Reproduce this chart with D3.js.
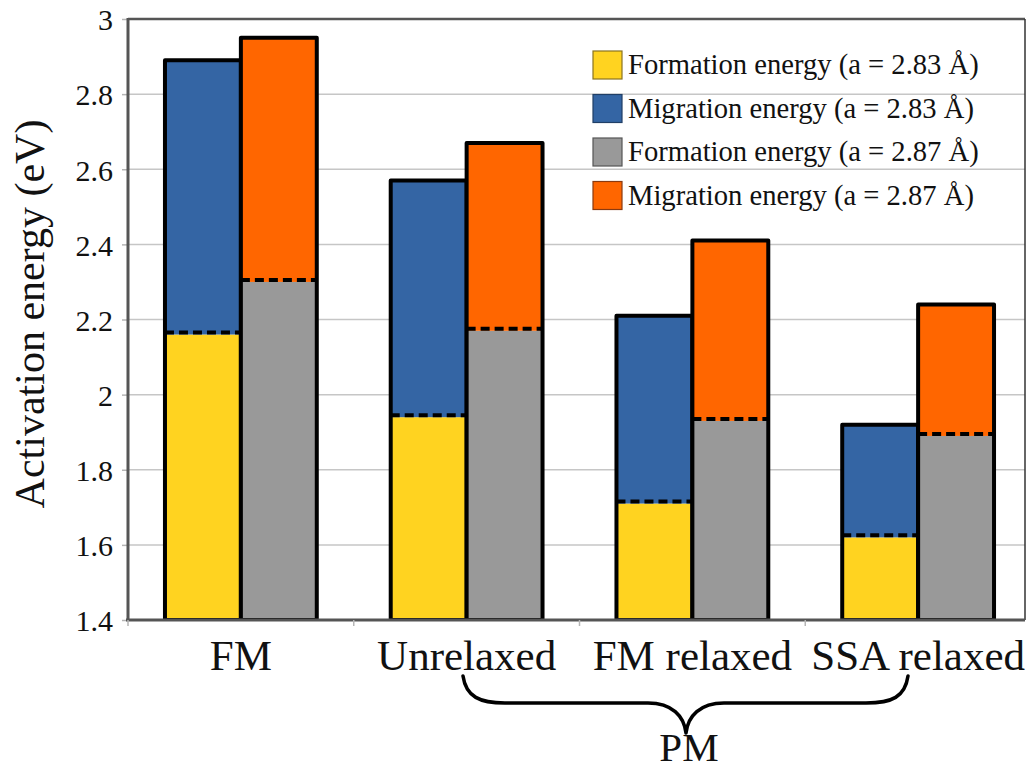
<!DOCTYPE html>
<html>
<head>
<meta charset="utf-8">
<script src="https://cdn.jsdelivr.net/npm/d3@7"></script>
<style>
  html, body { margin: 0; padding: 0; background: #fff; }
  svg { display: block; }
  svg text { font-family: "Liberation Serif", "Times New Roman", "DejaVu Serif", serif; }
</style>
</head>
<body>
<svg id="chart" width="1030" height="771"></svg>
<script>
// Vacancy activation energy: formation + migration, for two lattice parameters
const categories = ["FM", "Unrelaxed", "FM relaxed", "SSA relaxed"];
const formation283 = [2.16, 1.94, 1.71, 1.62];
const migration283 = [0.73, 0.63, 0.50, 0.30];
const formation287 = [2.30, 2.17, 1.93, 1.89];
const migration287 = [0.65, 0.50, 0.48, 0.35];
const yTicks = [1.4, 1.6, 1.8, 2, 2.2, 2.4, 2.6, 2.8, 3];
const legendLabels = [
  "Formation energy (a = 2.83 Å)",
  "Migration energy (a = 2.83 Å)",
  "Formation energy (a = 2.87 Å)",
  "Migration energy (a = 2.87 Å)"
];
const groupLabel = "PM";
const yTitle = "Activation energy (eV)";

const colors = {
  f283: "#FFD320", m283: "#3465A4",
  f287: "#999999", m287: "#FF6600"
};
const serif = '"Liberation Serif", "Times New Roman", serif';

const svg = d3.select("#chart");
const plot = { left: 128, right: 1025, top: 19, bottom: 620, bandEnd: 1031 };

const y = d3.scaleLinear().domain([1.4, 3]).range([plot.bottom, plot.top]);
const x0 = d3.scaleBand().domain(categories).range([plot.left, plot.bandEnd]).padding(0);
const x1 = d3.scaleBand().domain(["a283", "a287"]).range([0, x0.bandwidth()])
  .paddingInner(0).paddingOuter(0.487);

// Clip for bars (stacks start at zero, below the axis minimum)
svg.append("defs").append("clipPath").attr("id", "plotClip")
  .append("rect")
  .attr("x", plot.left).attr("y", plot.top - 10)
  .attr("width", plot.right - plot.left).attr("height", plot.bottom - plot.top + 10);

// Gridlines
svg.append("g").selectAll("line").data(yTicks.slice(1, -1)).join("line")
  .attr("x1", plot.left).attr("x2", plot.right)
  .attr("y1", d => y(d)).attr("y2", d => y(d))
  .attr("stroke", "#c6c6c6").attr("stroke-width", 1.5);

// Y axis labels and outer tick marks
const yAxis = svg.append("g").attr("transform", `translate(${plot.left},0)`)
  .call(d3.axisLeft(y).tickValues(yTicks).tickSize(6).tickPadding(9).tickFormat(d3.format("~g")));
yAxis.attr("font-family", null).attr("font-size", null);
yAxis.select(".domain").remove();
yAxis.selectAll(".tick line").attr("stroke", "#b5b5b5").attr("stroke-width", 1.5);
yAxis.selectAll(".tick text")
  .style("font-family", serif).style("font-size", "30px")
  .attr("fill", "#111")
  .attr("dy", "0.36em");

// Bars
const series = [
  { key: "a283", formation: formation283, migration: migration283, fc: colors.f283, mc: colors.m283 },
  { key: "a287", formation: formation287, migration: migration287, fc: colors.f287, mc: colors.m287 }
];

const bars = svg.append("g").attr("clip-path", "url(#plotClip)");
categories.forEach((cat, i) => {
  series.forEach(s => {
    const bx = x0(cat) + x1(s.key);
    const bw = x1.bandwidth();
    const f = s.formation[i];
    const total = f + s.migration[i];
    const g = bars.append("g");
    g.append("rect")
      .attr("x", bx).attr("width", bw)
      .attr("y", y(f)).attr("height", y(0) - y(f))
      .attr("fill", s.fc);
    g.append("rect")
      .attr("x", bx).attr("width", bw)
      .attr("y", y(total)).attr("height", y(f) - y(total))
      .attr("fill", s.mc);
    g.append("line")
      .attr("x1", bx).attr("x2", bx + bw)
      .attr("y1", y(f) - 2).attr("y2", y(f) - 2)
      .attr("stroke", "#000").attr("stroke-width", 4)
      .attr("stroke-dasharray", "9,5");
    g.append("rect")
      .attr("x", bx).attr("width", bw)
      .attr("y", y(total)).attr("height", y(1.4) - y(total))
      .attr("fill", "none").attr("stroke", "#000").attr("stroke-width", 4)
      .attr("stroke-linejoin", "round");
  });
});

// Frame: axis lines and border
svg.append("line").attr("x1", plot.left).attr("x2", plot.right)
  .attr("y1", plot.top).attr("y2", plot.top)
  .attr("stroke", "#555").attr("stroke-width", 2.5);
svg.append("line").attr("x1", plot.right).attr("x2", plot.right)
  .attr("y1", plot.top).attr("y2", plot.bottom)
  .attr("stroke", "#333").attr("stroke-width", 1.5);
svg.append("line").attr("x1", plot.left).attr("x2", plot.left)
  .attr("y1", plot.top - 1).attr("y2", plot.bottom + 1)
  .attr("stroke", "#555").attr("stroke-width", 3);
svg.append("line").attr("x1", plot.left - 2).attr("x2", plot.right)
  .attr("y1", plot.bottom).attr("y2", plot.bottom)
  .attr("stroke", "#555").attr("stroke-width", 3);

// Category boundary ticks below the axis
svg.append("g").selectAll("line").data(categories).join("line")
  .attr("x1", d => x0(d)).attr("x2", d => x0(d))
  .attr("y1", plot.bottom).attr("y2", plot.bottom + 6)
  .attr("stroke", "#b5b5b5").attr("stroke-width", 1.5);

// Category labels
const xAxis = svg.append("g").attr("transform", `translate(0,${plot.bottom})`)
  .call(d3.axisBottom(x0).tickSize(0).tickPadding(0));
xAxis.attr("font-family", null).attr("font-size", null);
xAxis.select(".domain").remove();
xAxis.selectAll(".tick text")
  .attr("y", 50).attr("dy", 0)
  .style("font-family", serif).style("font-size", "43px")
  .attr("fill", "#111");

// Y title
svg.append("text")
  .attr("transform", "translate(44,314) rotate(-90)")
  .attr("text-anchor", "middle")
  .style("font-size", "42px").attr("fill", "#111")
  .text(yTitle);

// Curly brace grouping the PM categories
const brace = d3.path();
brace.moveTo(463, 676);
brace.bezierCurveTo(466, 697, 480, 703, 505, 703);
brace.lineTo(648, 703);
brace.bezierCurveTo(672, 703, 684, 716, 686, 733);
brace.bezierCurveTo(688, 716, 700, 703, 724, 703);
brace.lineTo(866, 703);
brace.bezierCurveTo(892, 703, 905, 697, 908, 676);
svg.append("path").attr("d", brace.toString())
  .attr("fill", "none").attr("stroke", "#000").attr("stroke-width", 3.5)
  .attr("stroke-linecap", "round").attr("stroke-linejoin", "round");

svg.append("text")
  .attr("x", 689).attr("y", 761)
  .attr("text-anchor", "middle")
  .style("font-size", "41px").attr("fill", "#111")
  .text(groupLabel);

// Legend
const legendColors = [colors.f283, colors.m283, colors.f287, colors.m287];
const legendStroke = ["#8a7420", "#203f66", "#555555", "#8a3a10"];
const legend = svg.append("g");
legendLabels.forEach((lab, i) => {
  const cy = 65 + i * 43.5;
  legend.append("rect")
    .attr("x", 593).attr("y", cy - 14).attr("width", 29).attr("height", 28)
    .attr("fill", legendColors[i]).attr("stroke", legendStroke[i]).attr("stroke-width", 1.2);
  legend.append("text")
    .attr("x", 628).attr("y", cy + 9)
    .style("font-size", "28.6px").attr("fill", "#111")
    .text(lab);
});
</script>
</body>
</html>
